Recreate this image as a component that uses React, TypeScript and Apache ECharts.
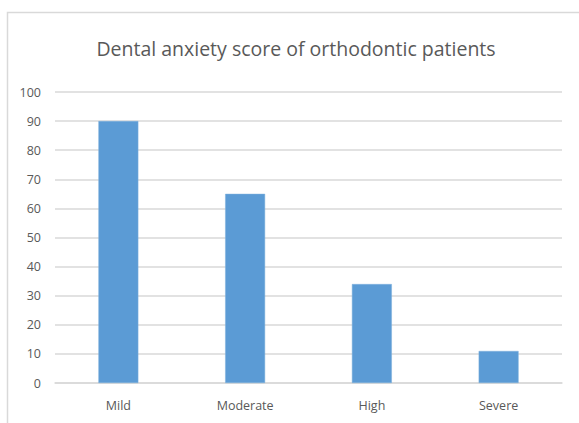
import React, { useEffect, useRef } from "react";
import * as echarts from "echarts";

const categories = ["Mild", "Moderate", "High", "Severe"];
const values = [90, 65, 34, 11];
const yTicks = { min: 0, max: 100, interval: 10 };
const titleText = "Dental anxiety score of orthodontic patients";

export default function App() {
  const ref = useRef<HTMLDivElement>(null);
  useEffect(() => {
    const chart = echarts.init(ref.current!, undefined, { renderer: "svg" });
    const font = "'Open Sans', 'Noto Sans', sans-serif";
    chart.setOption({
      animation: false,
      backgroundColor: "#ffffff",
      title: {
        text: titleText,
        left: 291,
        textAlign: "center",
        top: 33,
        textStyle: { fontFamily: font, fontSize: 19.5, fontWeight: "normal", color: "#595959" },
      },
      graphic: [
        {
          type: "rect",
          shape: { x: 7.5, y: 12.5, width: 700, height: 600 },
          style: { fill: "none", stroke: "#d9d9d9", lineWidth: 1.5 },
          silent: true,
          z: -1,
        },
      ],
      grid: { left: 55, right: 17, top: 92, bottom: 40, containLabel: false },
      xAxis: {
        type: "category",
        data: categories,
        axisLine: { show: true, lineStyle: { color: "#d9d9d9", width: 1.5 } },
        axisTick: { show: false },
        axisLabel: { fontFamily: font, fontSize: 12.5, color: "#595959", margin: 16 },
      },
      yAxis: {
        type: "value",
        min: yTicks.min,
        max: yTicks.max,
        interval: yTicks.interval,
        axisLine: { show: false },
        axisTick: { show: false },
        axisLabel: { fontFamily: font, fontSize: 12.5, color: "#595959", margin: 14 },
        splitLine: { lineStyle: { color: "#d9d9d9", width: 1.5 } },
      },
      series: [
        {
          type: "bar",
          data: values,
          barWidth: "31.5%",
          itemStyle: { color: "#5b9bd5", borderColor: "#7fb0dd", borderWidth: 0.5 },
        },
      ],
    });
    return () => chart.dispose();
  }, []);
  return (
    <div
      ref={ref}
      style={{ position: "fixed", left: 0, top: 0, width: 579, height: 423 }}
    />
  );
}
